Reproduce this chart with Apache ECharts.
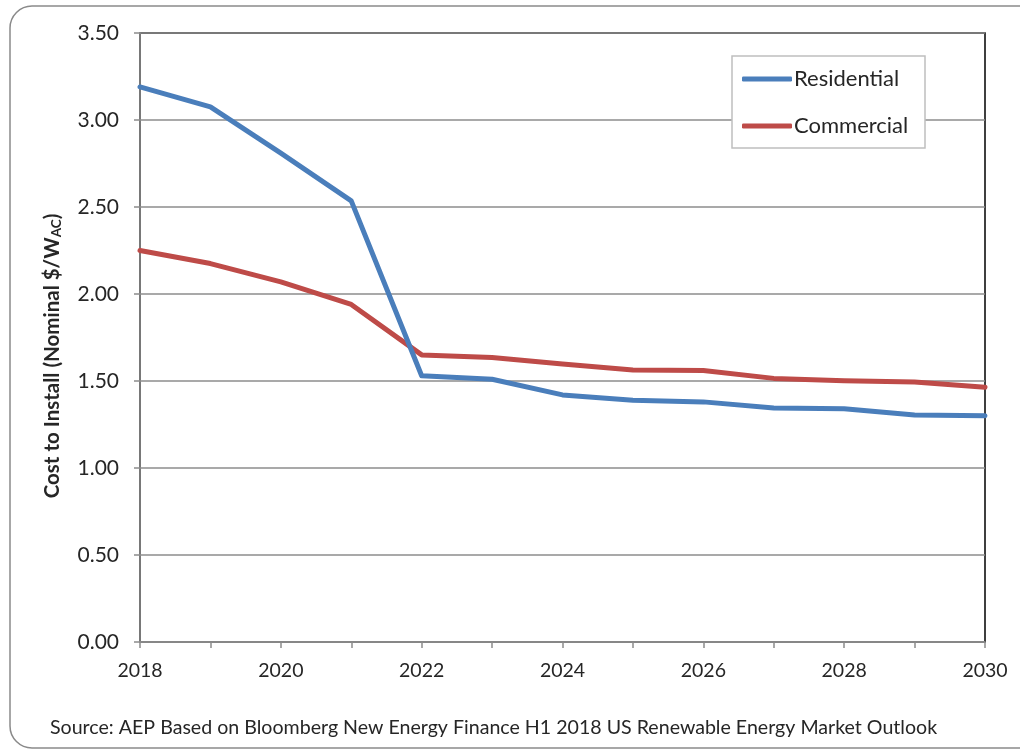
<!DOCTYPE html>
<html>
<head>
<meta charset="utf-8">
<script src="https://cdn.jsdelivr.net/npm/echarts@6/dist/echarts.min.js"></script>
<style>
  html, body { margin: 0; padding: 0; background: #fff; }
  #chart { width: 1020px; height: 750px; }
</style>
</head>
<body>
<div id="chart"></div>
<script>
// Installed solar cost outlook, nominal $/W(AC)
const years = ['2018','2019','2020','2021','2022','2023','2024','2025','2026','2027','2028','2029','2030'];
const residential = [3.19, 3.075, 2.81, 2.535, 1.53, 1.51, 1.42, 1.39, 1.38, 1.345, 1.34, 1.305, 1.30];
const commercial  = [2.25, 2.175, 2.07, 1.94, 1.65, 1.635, 1.598, 1.563, 1.56, 1.515, 1.502, 1.494, 1.464];
const seriesNames = ['Residential', 'Commercial'];
const sourceNote = 'Source: AEP Based on Bloomberg New Energy Finance H1 2018 US Renewable Energy Market Outlook';

const FONT = 'Lato';
const TEXT = '#262626';
const GRIDC = '#8c8c8c';

const chart = echarts.init(document.getElementById('chart'), null, { renderer: 'canvas' });

chart.setOption({
  animation: false,
  backgroundColor: '#ffffff',
  textStyle: { fontFamily: FONT },
  grid: {
    left: 140, right: 35, top: 33, bottom: 108,
    show: true, borderColor: '#000000', borderWidth: 1.5, backgroundColor: 'transparent'
  },
  graphic: [
    {
      type: 'rect', z: -10, silent: true,
      shape: { x: 10, y: 6, width: 1030, height: 742, r: 22 },
      style: { fill: '#ffffff', stroke: '#8a8a8a', lineWidth: 1.5 }
    },
    {
      type: 'rect', z: 10, silent: true,
      shape: { x: 732, y: 56, width: 193, height: 92 },
      style: { fill: '#ffffff', stroke: '#bfbfbf', lineWidth: 1.5 }
    },
    {
      type: 'text', z: 20, silent: true,
      x: 52, y: 356, rotation: Math.PI / 2,
      style: {
        text: '{b|Cost to Install (Nominal $/W}{s|AC}{b|)}',
        align: 'center', verticalAlign: 'middle',
        fill: TEXT,
        rich: {
          b: { fontFamily: FONT, fontWeight: 'bold', fontSize: 20.5, lineHeight: 24, fill: TEXT, verticalAlign: 'middle' },
          s: { fontFamily: FONT, fontWeight: 'bold', fontSize: 13.5, lineHeight: 24, fill: TEXT, verticalAlign: 'bottom', padding: [7, 0, 0, 0] }
        }
      }
    },
    {
      type: 'text', silent: true,
      x: 50, y: 728,
      style: {
        text: sourceNote,
        fontFamily: FONT, fontSize: 19.6, fill: TEXT,
        align: 'left', verticalAlign: 'middle'
      }
    }
  ],
  legend: {
    data: seriesNames,
    orient: 'vertical',
    left: 732, top: 56,
    padding: [12, 10, 12, 10],
    itemGap: 25,
    itemWidth: 50, itemHeight: 5,
    icon: 'roundRect',
    z: 20,
    textStyle: { fontFamily: FONT, fontSize: 22, color: TEXT, padding: [0, 0, 0, -3] }
  },
  xAxis: {
    type: 'category',
    data: years,
    boundaryGap: false,
    axisLine: { show: true, lineStyle: { color: GRIDC, width: 1.5 } },
    axisTick: { show: true, interval: 0, length: 6, inside: false, lineStyle: { color: GRIDC, width: 1.5 } },
    axisLabel: { interval: 1, margin: 19, fontFamily: FONT, fontSize: 19.5, color: TEXT },
    splitLine: { show: false }
  },
  yAxis: {
    type: 'value',
    min: 0, max: 3.5, interval: 0.5,
    axisLine: { show: true, lineStyle: { color: GRIDC, width: 1.5 } },
    axisTick: { show: true, length: 6, inside: false, lineStyle: { color: GRIDC, width: 1.5 } },
    axisLabel: {
      margin: 21, fontFamily: FONT, fontSize: 21, color: TEXT,
      formatter: v => v.toFixed(2)
    },
    splitLine: { show: true, lineStyle: { color: GRIDC, width: 1.5 } }
  },
  series: [
    {
      name: seriesNames[0], type: 'line', data: residential,
      symbol: 'none', z: 3,
      color: '#4a7ebb',
      lineStyle: { color: '#4a7ebb', width: 5, cap: 'round', join: 'round' }
    },
    {
      name: seriesNames[1], type: 'line', data: commercial,
      symbol: 'none', z: 2,
      color: '#be4b48',
      lineStyle: { color: '#be4b48', width: 5, cap: 'round', join: 'round' }
    }
  ]
});
</script>
</body>
</html>
